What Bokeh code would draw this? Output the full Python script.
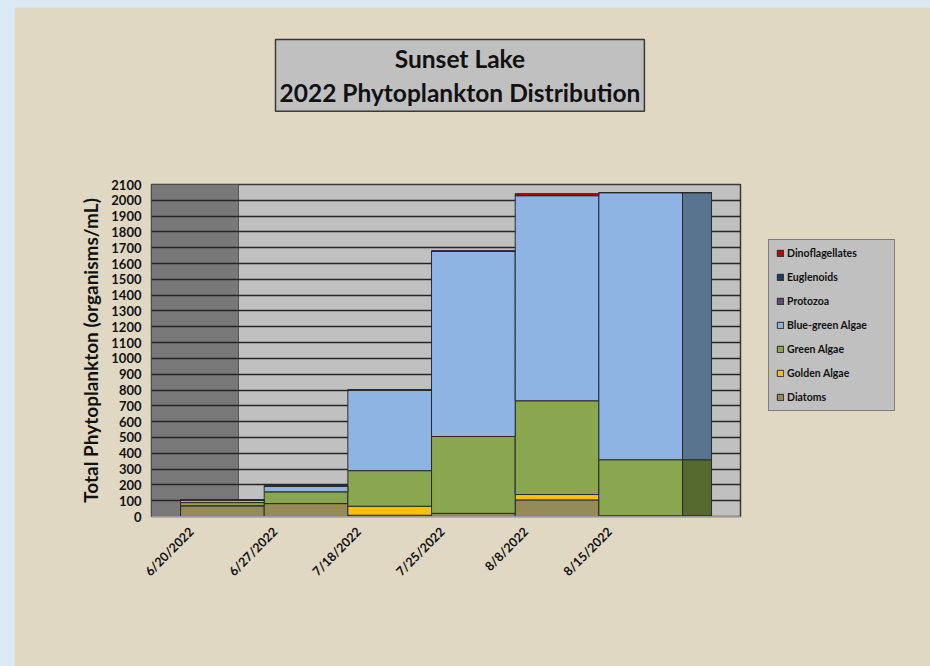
from bokeh.plotting import figure
from bokeh.models import (ColumnDataSource, Legend, LegendItem, Title,
                          SingleIntervalTicker, FixedTicker, Range1d)
from bokeh.layouts import column
from bokeh.embed import file_html
from bokeh.resources import INLINE

# ---- data ----
dates = ["6/20/2022", "6/27/2022", "7/18/2022", "7/25/2022", "8/8/2022", "8/15/2022"]
diatoms = [68, 82, 8, 20, 105, 4]
golden_algae = [0, 0, 57, 0, 34, 0]
green_algae = [20, 74, 225, 486, 593, 355]
bluegreen_algae = [17, 36, 510, 1172, 1298, 1690]
protozoa = [0, 0, 0, 0, 0, 0]
euglenoids = [0, 0, 0, 0, 0, 0]
dinoflagellates = [0, 0, 0, 0, 12, 0]

series_names = ["Diatoms", "Golden Algae", "Green Algae", "Blue-green Algae",
                "Protozoa", "Euglenoids", "Dinoflagellates"]
series_values = [diatoms, golden_algae, green_algae, bluegreen_algae,
                 protozoa, euglenoids, dinoflagellates]
series_colors = ["#958b56", "#ffc000", "#8aa64e", "#8db4e2",
                 "#604a7b", "#1f3864", "#c00000"]
side_colors = ["#5c5634", "#9c7600", "#56692f", "#587590",
               "#3c2e4c", "#13233e", "#780000"]

FONT = "Lato"
BAR_SHIFT = 0.37   # 3-D perspective shift of the columns relative to the tick labels
SIDE_DEPTH = 0.347
LEFT_GAP = 0.347
RIGHT_GAP = 0.693
WALL = 0.693

keys = ["s%d" % i for i in range(len(series_names))]
data = {"x": [i + BAR_SHIFT for i in range(len(dates))]}
for k, v in zip(keys, series_values):
    data[k] = v
source = ColumnDataSource(data)

x0 = BAR_SHIFT - 0.5 - LEFT_GAP
x1 = BAR_SHIFT + len(dates) - 0.5 + RIGHT_GAP

p = figure(frame_width=589, frame_height=332,
           min_border_left=137, min_border_right=180,
           min_border_top=177, min_border_bottom=150,
           x_range=Range1d(x0, x1), y_range=Range1d(0, 2100),
           output_backend="svg", toolbar_location=None)
p.title = None

p.background_fill_color = "#c0c0c0"
p.border_fill_color = "#e1d8c3"
p.outline_line_color = "#3a3a3a"
p.outline_line_width = 1.5

# left side wall of the 3-D chart
p.quad(left=[x0], right=[BAR_SHIFT - 0.5 + WALL], bottom=[0], top=[2100],
       fill_color="#787878", line_color="#555555", line_width=1, level="image")

renderers = p.vbar_stack(keys, x="x", width=1.0, source=source,
                         fill_color=series_colors, line_color="#2a2a2a", line_width=1)

# right side face of the last column (3-D depth)
last = len(dates) - 1
bottoms, tops = [], []
acc = 0
for v in series_values:
    bottoms.append(acc)
    acc += v[last]
    tops.append(acc)
p.quad(left=[last + BAR_SHIFT + 0.5] * len(keys),
       right=[last + BAR_SHIFT + 0.5 + SIDE_DEPTH] * len(keys),
       bottom=bottoms, top=tops, fill_color=side_colors,
       line_color="#2a2a2a", line_width=1)

# grid
p.xgrid.grid_line_color = None
p.ygrid.grid_line_color = "#262626"
p.ygrid.grid_line_width = 1.4
p.ygrid.ticker = SingleIntervalTicker(interval=100)

# y axis
p.yaxis.ticker = SingleIntervalTicker(interval=100)
p.yaxis.axis_line_color = None
p.yaxis.major_tick_line_color = None
p.yaxis.minor_tick_line_color = None
p.yaxis.major_label_text_font = FONT
p.yaxis.major_label_text_font_style = "bold"
p.yaxis.major_label_text_font_size = "13px"
p.yaxis.major_label_text_color = "#111111"
p.yaxis.major_label_standoff = 4
p.yaxis.axis_label = "Total Phytoplankton (organisms/mL)"
p.yaxis.axis_label_text_font = FONT
p.yaxis.axis_label_text_font_style = "bold"
p.yaxis.axis_label_text_font_size = "19px"
p.yaxis.axis_label_text_color = "#111111"
p.yaxis.axis_label_standoff = 6

# x axis
p.xaxis.ticker = FixedTicker(ticks=list(range(len(dates))))
p.xaxis.major_label_overrides = {i: d for i, d in enumerate(dates)}
p.xaxis.major_label_orientation = 0.785398
p.xaxis.axis_line_color = "#9a9a9a"
p.xaxis.major_tick_line_color = None
p.xaxis.minor_tick_line_color = None
p.xaxis.major_label_text_font = FONT
p.xaxis.major_label_text_font_style = "bold"
p.xaxis.major_label_text_font_size = "12.5px"
p.xaxis.major_label_text_color = "#111111"
p.xaxis.major_label_standoff = 7

# legend (in the right side panel)
items = [LegendItem(label=n, renderers=[r]) for n, r in zip(series_names, renderers)]
items.reverse()
legend = Legend(items=items, location=(28, 105))
legend.background_fill_color = "#c0c0c0"
legend.background_fill_alpha = 1.0
legend.border_line_color = "#3a3a3a"
legend.border_line_width = 1.5
legend.label_text_font = FONT
legend.label_text_font_style = "bold"
legend.label_text_font_size = "10.5px"
legend.label_text_color = "#111111"
legend.glyph_width = 8
legend.glyph_height = 8
legend.label_height = 8
legend.label_width = 100
legend.label_standoff = 3
legend.spacing = 12
legend.padding = 7
legend.margin = 0
p.add_layout(legend, "right")

# spacer between the frame and the boxed title
spacer = Title(text=" ", text_font_size="1px", standoff=64,
               background_fill_color=None, border_line_color=None)
p.add_layout(spacer, "above")

# boxed two-line title
title = Title(text="Sunset Lake\n2022 Phytoplankton Distribution",
              align="left", offset=124, standoff=8, vertical_align="top",
              text_font=FONT, text_font_style="bold", text_font_size="24.5px",
              text_color="#111111", background_fill_color="#c0c0c0",
              border_line_color="#3a3a3a", border_line_width=1.5, padding=4)
try:
    title.text_align = "center"
except Exception:
    pass
try:
    title.text_line_height = 1.2
except Exception:
    pass
p.add_layout(title, "above")

page = column(p, styles={"background-color": "#dbe9f4",
                         "padding-left": "14px", "padding-top": "7px"})

open("out.html", "w").write(file_html(page, INLINE))
